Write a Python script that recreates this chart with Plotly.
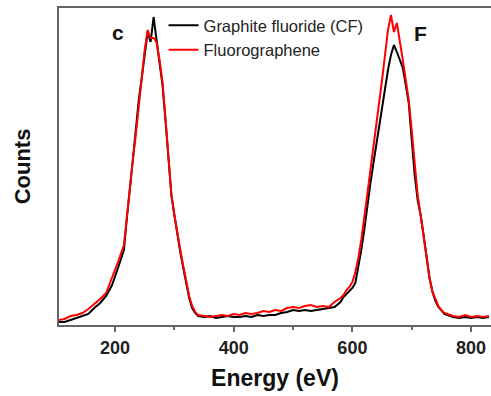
import plotly.graph_objects as go

energy = [105, 115, 125, 135, 145, 155, 165, 175, 185, 195, 205, 215,
          220, 225, 230, 235, 240, 245, 250, 255, 260, 265, 270, 275, 280, 285, 290, 295, 300, 305, 310, 315, 320, 325, 330, 335, 340,
          350, 360, 370, 380, 390, 400, 410, 420, 430, 440, 450, 460, 470, 480, 490, 500, 510, 520, 530, 540, 550, 560, 570, 580,
          585, 590, 595, 600, 605, 610, 615, 620, 625, 630, 635, 640, 645, 650, 655, 660, 665, 670, 675, 680, 685, 690, 695, 700,
          705, 710, 715, 720, 725, 730, 735, 740, 745, 750, 755, 760, 765, 770,
          780, 790, 800, 810, 820, 830]

graphite_fluoride = [30, 30, 50, 70, 90, 110, 170, 220, 290, 400, 570, 750,
                     1070, 1330, 1650, 1950, 2250, 2470, 2700, 2930, 2830, 3080, 2850, 2630, 2400, 2050, 1650, 1300, 1100, 900, 730, 570, 410, 270, 170, 120, 90,
                     80, 90, 70, 80, 90, 80, 80, 90, 80, 100, 90, 100, 100, 120, 130, 150, 140, 150, 140, 150, 160, 170, 180, 230,
                     280, 310, 340, 370, 420, 570, 750, 950, 1200, 1400, 1600, 1800, 2000, 2200, 2400, 2550, 2700, 2800, 2730, 2650, 2570, 2400, 2220, 1850,
                     1500, 1250, 1100, 900, 670, 470, 330, 240, 180, 140, 110, 100, 90, 80,
                     70, 80, 70, 80, 70, 80]

fluorographene = [50, 60, 90, 100, 120, 160, 210, 260, 320, 470, 630, 800,
                  1100, 1350, 1650, 1900, 2200, 2470, 2750, 2950, 2870, 2870, 2830, 2650, 2430, 2070, 1670, 1300, 1100, 900, 750, 590, 430, 290, 190, 130, 100,
                  90, 80, 90, 100, 90, 110, 100, 120, 110, 120, 140, 130, 150, 140, 170, 180, 170, 190, 200, 180, 190, 180, 230, 270,
                  300, 350, 380, 430, 530, 670, 850, 1100, 1300, 1530, 1750, 1980, 2200, 2450, 2700, 2950, 3100, 2930, 3020, 2850, 2650, 2450, 2250, 1950,
                  1600, 1300, 1100, 900, 670, 470, 330, 250, 190, 150, 120, 110, 100, 90,
                  80, 100, 80, 90, 80, 90]

series_names = ["Graphite fluoride (CF)", "Fluorographene"]
peak_labels = ["c", "F"]
peak_label_pos = [(205, 2930), (714, 2920)]
x_ticks = [200, 400, 600, 800]
x_minor = [300, 500, 700]

fig = go.Figure()
fig.add_trace(go.Scatter(x=energy, y=graphite_fluoride, mode="lines", name=series_names[0],
                         line=dict(color="#000000", width=2)))
fig.add_trace(go.Scatter(x=energy, y=fluorographene, mode="lines", name=series_names[1],
                         line=dict(color="#ff0000", width=2)))

for lab, (px, py) in zip(peak_labels, peak_label_pos):
    fig.add_annotation(x=px, y=py, text="<b>%s</b>" % lab, showarrow=False,
                       font=dict(family="Liberation Sans, Arial", size=21, color="#111"))

fig.update_layout(
    width=491, height=396,
    margin=dict(l=59, r=0, t=8, b=71),
    plot_bgcolor="white", paper_bgcolor="white",
    font=dict(family="Liberation Sans, Arial", color="#222"),
    legend=dict(x=0.242, y=1.0, xanchor="left", yanchor="top", bgcolor="rgba(0,0,0,0)",
                font=dict(size=16.5, color="#222"), tracegroupgap=0, itemwidth=30),
    showlegend=True,
)
fig.update_xaxes(range=[105.6, 833.6], showline=True, linecolor="#666", linewidth=1.8, mirror=True,
                 ticks="outside", ticklen=5, tickcolor="#666", tickwidth=1.5,
                 tickvals=x_ticks, ticktext=["<b>%d</b>" % v for v in x_ticks],
                 tickfont=dict(size=18, color="#222"),
                 minor=dict(tickvals=x_minor, ticks="outside", ticklen=3, tickcolor="#666", tickwidth=1.5),
                 showgrid=False, zeroline=False,
                 title=dict(text="<b>Energy (eV)</b>", font=dict(size=23, color="#111"), standoff=13))
fig.update_yaxes(range=[0, 3170], showline=True, linecolor="#666", linewidth=1.8, mirror=False,
                 showticklabels=False, ticks="", showgrid=False, zeroline=False,
                 title=dict(text="<b>Counts</b>", font=dict(size=22, color="#111"), standoff=20))

fig.write_html("out.html")
